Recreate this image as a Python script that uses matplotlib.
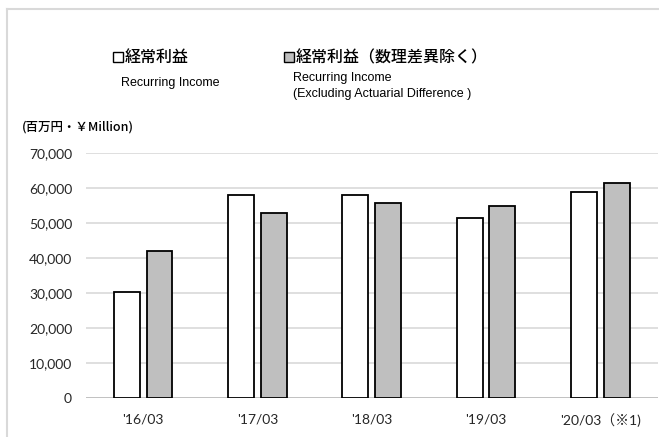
import matplotlib
matplotlib.use("Agg")
import matplotlib.pyplot as plt
import numpy as np
from matplotlib.patches import Rectangle
from matplotlib.lines import Line2D

categories = ["'16/03", "'17/03", "'18/03", "'19/03", "'20/03（※1)"]
recurring = [30400, 57900, 57900, 51400, 58800]
recurring_excl = [42000, 52900, 55600, 54900, 61400]
yticks = [0, 10000, 20000, 30000, 40000, 50000, 60000, 70000]

W, H = 659, 437
fig = plt.figure(figsize=(W / 100, H / 100), dpi=100)
fig.patch.set_facecolor("white")

# outer frame (light gray)
fig.add_artist(Line2D([7 / W, 7 / W], [0, 1 - 9 / H], transform=fig.transFigure, color="#d9d9d9", lw=1.5))
fig.add_artist(Line2D([7 / W, 1], [1 - 9 / H, 1 - 9 / H], transform=fig.transFigure, color="#d9d9d9", lw=1.5))

left, right = 86 / W, 657.5 / W
bottom, top = 1 - 398.3 / H, 1 - 152.7 / H
ax = fig.add_axes([left, bottom, right - left, top - bottom])

x = np.arange(len(categories))
bw = 0.227
off = 0.143
ax.bar(x - off, recurring, width=bw, color="white", edgecolor="black", linewidth=1.3, zorder=3)
ax.bar(x + off, recurring_excl, width=bw, color="#bfbfbf", edgecolor="black", linewidth=1.3, zorder=3)

ax.set_xlim(-0.5, len(categories) - 0.5)
ax.set_ylim(0, 70000)
ax.set_yticks(yticks)
ax.set_yticklabels([f"{v:,}" for v in yticks], family=["Lato", "Noto Sans CJK JP"], fontsize=10, color="#262626")
ax.set_xticks(x)
ax.set_xticklabels(categories, family=["Lato", "Noto Sans CJK JP"], fontsize=10, color="#262626")
ax.tick_params(axis="y", length=0, pad=10)
ax.tick_params(axis="x", length=0, pad=11)
ax.grid(axis="y", color="#d9d9d9", linewidth=1.2, zorder=0)
ax.set_axisbelow(True)
for s in ax.spines.values():
    s.set_visible(False)
ax.axhline(0, color="#bfbfbf", lw=1.3, zorder=2)

cjk = ["Noto Sans CJK JP", "DejaVu Sans"]

# legend
def sq(px, py, fc):
    fig.add_artist(Rectangle((px / W, 1 - (py + 10) / H), 10 / W, 10 / H, transform=fig.transFigure,
                             facecolor=fc, edgecolor="black", linewidth=1.0))

sq(113, 52, "white")
fig.text(125 / W, 1 - 57.5 / H, "経常利益", family=cjk, fontsize=11.5, fontweight="medium", va="center", ha="left", color="black")
fig.text(121 / W, 1 - 83 / H, "Recurring Income", family="Liberation Sans", fontsize=9, va="center", ha="left")

sq(284, 52, "#bfbfbf")
fig.text(296 / W, 1 - 57.5 / H, "経常利益（数理差異除く）", family=cjk, fontsize=11.5, fontweight="medium", va="center", ha="left", color="black")
fig.text(293 / W, 1 - 78 / H, "Recurring Income", family="Liberation Sans", fontsize=9, va="center", ha="left")
fig.text(293 / W, 1 - 93.5 / H, "(Excluding Actuarial Difference )", family="Liberation Sans", fontsize=9, va="center", ha="left")

fig.text(22 / W, 1 - 127 / H, "(百万円・￥Million)", family=cjk, fontsize=9, fontweight="medium", va="center", ha="left", color="black")

fig.savefig("out.png", dpi=100)
